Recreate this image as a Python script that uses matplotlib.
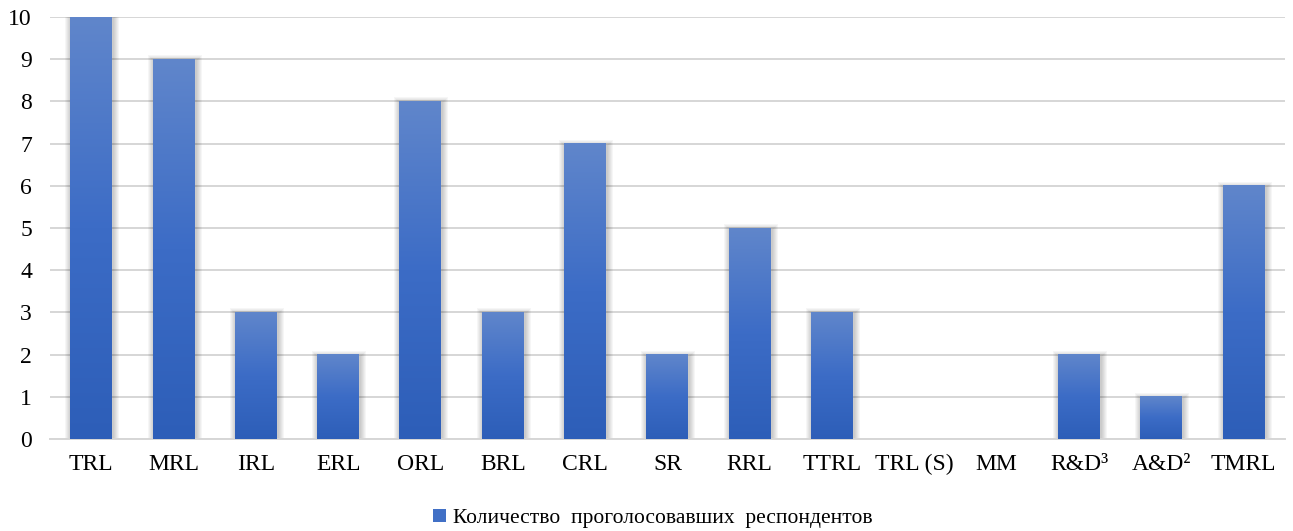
import numpy as np
import matplotlib.pyplot as plt
from matplotlib.colors import LinearSegmentedColormap
from matplotlib.patches import Rectangle, Patch

plt.rcParams['font.family'] = ['Liberation Serif', 'DejaVu Serif']

categories = ['TRL', 'MRL', 'IRL', 'ERL', 'ORL', 'BRL', 'CRL', 'SR', 'RRL', 'TTRL',
              'TRL (S)', 'MM', 'R&D³', 'A&D²', 'TMRL']
votes = [10, 9, 3, 2, 8, 3, 7, 2, 5, 3, 0, 0, 2, 1, 6]
yticks = list(range(0, 11))
series_name = 'Количество  проголосовавших  респондентов'

grad = LinearSegmentedColormap.from_list('bar', ['#2D5EB8', '#3C6CC6', '#6086CB'])

fig = plt.figure(figsize=(12.93, 5.31), dpi=100)
ax = fig.add_axes([0.0387, 0.1733, 0.955, 0.7947])

x = np.arange(len(categories))
w = 0.51
px_x = len(categories) / (0.955 * 1293)
px_y = 10 / (0.7947 * 531)
g = np.linspace(0, 1, 256).reshape(-1, 1)

for xi, v in zip(x, votes):
    if v <= 0:
        continue
    # soft shadow around the bar
    for k in range(1, 7):
        ax.add_patch(Rectangle((xi - w / 2 - k * px_x + px_x, 0),
                               w + 2 * k * px_x, v + k * px_y - px_y * 2,
                               facecolor='black', edgecolor='none',
                               alpha=0.035, zorder=2))
    # vertical gradient fill
    ax.imshow(g, cmap=grad, origin='lower', aspect='auto',
              extent=[xi - w / 2, xi + w / 2, 0, v], zorder=3,
              interpolation='bilinear')

ax.set_xlim(-0.5, len(categories) - 0.5)
ax.set_ylim(0, 10)
ax.set_yticks(yticks)
ax.set_xticks(x)
ax.set_xticklabels(categories)
ax.grid(axis='y', color='#D6D6D6', linewidth=1.4, zorder=1)
ax.set_axisbelow(True)
for s in ['top', 'right', 'left']:
    ax.spines[s].set_visible(False)
ax.spines['bottom'].set_color('#D6D6D6')
ax.spines['bottom'].set_linewidth(1.4)
ax.tick_params(axis='both', length=0, labelsize=17, colors='black')
ax.tick_params(axis='y', pad=13)
ax.tick_params(axis='x', pad=11)

handle = Patch(facecolor='#4170C6', edgecolor='none')
fig.legend([handle], [series_name], loc='center', bbox_to_anchor=(0.505, 0.024),
           frameon=False, fontsize=15.5, handlelength=0.6, handleheight=0.6,
           handletextpad=0.3)

fig.savefig('out.png', dpi=100)
